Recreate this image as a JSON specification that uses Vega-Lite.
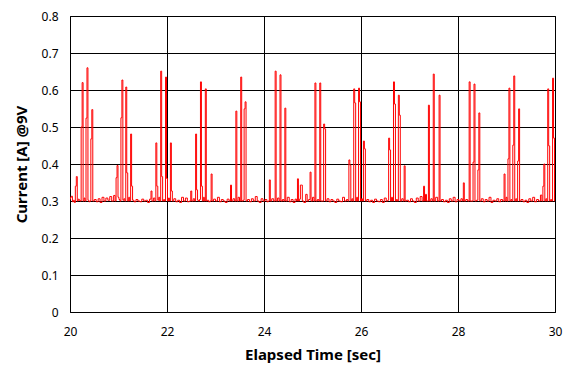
{
  "$schema": "https://vega.github.io/schema/vega-lite/v6.json",
  "width": 485,
  "height": 296,
  "autosize": {"type": "none"},
  "padding": {"left": 70, "top": 16, "right": 16, "bottom": 70},
  "background": "white",
  "config": {
    "view": {"stroke": "black", "strokeWidth": 1},
    "font": "Noto Sans"
  },
  "data": {"values": [
{"t":20.00,"v":0.305},{"t":20.02,"v":0.31},{"t":20.04,"v":0.313},{"t":20.06,"v":0.298},{"t":20.08,"v":0.302},{"t":20.10,"v":0.296},{"t":20.12,"v":0.34},{"t":20.14,"v":0.366},{"t":20.16,"v":0.30},{"t":20.18,"v":0.305},{"t":20.20,"v":0.302},{"t":20.22,"v":0.30},{"t":20.24,"v":0.50},{"t":20.26,"v":0.62},{"t":20.28,"v":0.30},{"t":20.30,"v":0.308},{"t":20.32,"v":0.30},{"t":20.34,"v":0.524},{"t":20.36,"v":0.66},{"t":20.38,"v":0.302},{"t":20.40,"v":0.298},{"t":20.42,"v":0.30},{"t":20.44,"v":0.468},{"t":20.46,"v":0.547},{"t":20.48,"v":0.30},{"t":20.52,"v":0.304},{"t":20.56,"v":0.298},{"t":20.60,"v":0.306},{"t":20.64,"v":0.296},{"t":20.68,"v":0.31},{"t":20.72,"v":0.30},{"t":20.76,"v":0.308},{"t":20.80,"v":0.302},{"t":20.84,"v":0.312},{"t":20.88,"v":0.30},{"t":20.92,"v":0.315},{"t":20.94,"v":0.30},{"t":20.96,"v":0.363},{"t":20.98,"v":0.396},{"t":21.00,"v":0.31},{"t":21.02,"v":0.304},{"t":21.04,"v":0.30},{"t":21.06,"v":0.525},{"t":21.08,"v":0.627},{"t":21.10,"v":0.302},{"t":21.12,"v":0.306},{"t":21.14,"v":0.30},{"t":21.16,"v":0.608},{"t":21.18,"v":0.376},{"t":21.20,"v":0.30},{"t":21.22,"v":0.31},{"t":21.24,"v":0.30},{"t":21.26,"v":0.481},{"t":21.28,"v":0.34},{"t":21.30,"v":0.302},{"t":21.34,"v":0.298},{"t":21.38,"v":0.304},{"t":21.42,"v":0.30},{"t":21.46,"v":0.298},{"t":21.50,"v":0.305},{"t":21.54,"v":0.30},{"t":21.58,"v":0.302},{"t":21.62,"v":0.296},{"t":21.66,"v":0.305},{"t":21.68,"v":0.327},{"t":21.70,"v":0.30},{"t":21.74,"v":0.308},{"t":21.76,"v":0.30},{"t":21.78,"v":0.457},{"t":21.80,"v":0.34},{"t":21.82,"v":0.302},{"t":21.84,"v":0.31},{"t":21.86,"v":0.30},{"t":21.88,"v":0.651},{"t":21.90,"v":0.366},{"t":21.92,"v":0.30},{"t":21.94,"v":0.304},{"t":21.96,"v":0.30},{"t":21.98,"v":0.635},{"t":22.00,"v":0.361},{"t":22.02,"v":0.30},{"t":22.04,"v":0.308},{"t":22.06,"v":0.30},{"t":22.08,"v":0.457},{"t":22.10,"v":0.327},{"t":22.12,"v":0.30},{"t":22.16,"v":0.306},{"t":22.20,"v":0.298},{"t":22.24,"v":0.302},{"t":22.28,"v":0.296},{"t":22.32,"v":0.31},{"t":22.36,"v":0.30},{"t":22.40,"v":0.308},{"t":22.44,"v":0.298},{"t":22.48,"v":0.30},{"t":22.50,"v":0.327},{"t":22.52,"v":0.30},{"t":22.56,"v":0.306},{"t":22.58,"v":0.30},{"t":22.60,"v":0.481},{"t":22.62,"v":0.33},{"t":22.64,"v":0.302},{"t":22.66,"v":0.30},{"t":22.68,"v":0.304},{"t":22.70,"v":0.622},{"t":22.72,"v":0.34},{"t":22.74,"v":0.30},{"t":22.76,"v":0.31},{"t":22.78,"v":0.30},{"t":22.80,"v":0.603},{"t":22.82,"v":0.30},{"t":22.84,"v":0.302},{"t":22.88,"v":0.298},{"t":22.90,"v":0.30},{"t":22.92,"v":0.373},{"t":22.94,"v":0.30},{"t":22.98,"v":0.305},{"t":23.02,"v":0.30},{"t":23.06,"v":0.31},{"t":23.10,"v":0.298},{"t":23.14,"v":0.304},{"t":23.18,"v":0.30},{"t":23.22,"v":0.296},{"t":23.26,"v":0.305},{"t":23.30,"v":0.30},{"t":23.32,"v":0.343},{"t":23.34,"v":0.30},{"t":23.38,"v":0.306},{"t":23.41,"v":0.30},{"t":23.43,"v":0.543},{"t":23.45,"v":0.30},{"t":23.48,"v":0.31},{"t":23.51,"v":0.30},{"t":23.53,"v":0.635},{"t":23.55,"v":0.30},{"t":23.58,"v":0.302},{"t":23.60,"v":0.549},{"t":23.62,"v":0.568},{"t":23.64,"v":0.30},{"t":23.68,"v":0.304},{"t":23.72,"v":0.298},{"t":23.76,"v":0.306},{"t":23.80,"v":0.30},{"t":23.84,"v":0.312},{"t":23.88,"v":0.30},{"t":23.92,"v":0.296},{"t":23.96,"v":0.306},{"t":24.00,"v":0.30},{"t":24.04,"v":0.304},{"t":24.08,"v":0.298},{"t":24.10,"v":0.30},{"t":24.12,"v":0.357},{"t":24.14,"v":0.30},{"t":24.18,"v":0.306},{"t":24.22,"v":0.30},{"t":24.24,"v":0.651},{"t":24.26,"v":0.30},{"t":24.30,"v":0.308},{"t":24.32,"v":0.30},{"t":24.34,"v":0.641},{"t":24.36,"v":0.30},{"t":24.40,"v":0.304},{"t":24.42,"v":0.30},{"t":24.44,"v":0.551},{"t":24.46,"v":0.30},{"t":24.50,"v":0.31},{"t":24.54,"v":0.298},{"t":24.58,"v":0.304},{"t":24.62,"v":0.296},{"t":24.66,"v":0.305},{"t":24.68,"v":0.30},{"t":24.70,"v":0.36},{"t":24.72,"v":0.30},{"t":24.74,"v":0.305},{"t":24.76,"v":0.343},{"t":24.78,"v":0.343},{"t":24.80,"v":0.30},{"t":24.84,"v":0.296},{"t":24.88,"v":0.318},{"t":24.90,"v":0.30},{"t":24.94,"v":0.304},{"t":24.96,"v":0.378},{"t":24.98,"v":0.30},{"t":25.02,"v":0.31},{"t":25.04,"v":0.30},{"t":25.06,"v":0.619},{"t":25.08,"v":0.30},{"t":25.12,"v":0.304},{"t":25.14,"v":0.30},{"t":25.16,"v":0.619},{"t":25.18,"v":0.30},{"t":25.22,"v":0.30},{"t":25.24,"v":0.508},{"t":25.26,"v":0.495},{"t":25.28,"v":0.30},{"t":25.32,"v":0.306},{"t":25.36,"v":0.298},{"t":25.40,"v":0.304},{"t":25.44,"v":0.30},{"t":25.48,"v":0.296},{"t":25.52,"v":0.305},{"t":25.56,"v":0.30},{"t":25.60,"v":0.298},{"t":25.64,"v":0.31},{"t":25.68,"v":0.30},{"t":25.72,"v":0.304},{"t":25.74,"v":0.30},{"t":25.76,"v":0.411},{"t":25.78,"v":0.397},{"t":25.80,"v":0.30},{"t":25.82,"v":0.306},{"t":25.84,"v":0.30},{"t":25.86,"v":0.603},{"t":25.88,"v":0.565},{"t":25.90,"v":0.30},{"t":25.92,"v":0.31},{"t":25.94,"v":0.30},{"t":25.96,"v":0.605},{"t":25.98,"v":0.568},{"t":26.00,"v":0.30},{"t":26.02,"v":0.306},{"t":26.04,"v":0.30},{"t":26.06,"v":0.462},{"t":26.08,"v":0.441},{"t":26.10,"v":0.30},{"t":26.14,"v":0.304},{"t":26.18,"v":0.298},{"t":26.22,"v":0.302},{"t":26.26,"v":0.296},{"t":26.30,"v":0.305},{"t":26.34,"v":0.30},{"t":26.38,"v":0.298},{"t":26.42,"v":0.304},{"t":26.46,"v":0.296},{"t":26.50,"v":0.308},{"t":26.54,"v":0.30},{"t":26.56,"v":0.302},{"t":26.58,"v":0.47},{"t":26.60,"v":0.438},{"t":26.62,"v":0.30},{"t":26.64,"v":0.31},{"t":26.66,"v":0.30},{"t":26.68,"v":0.622},{"t":26.70,"v":0.562},{"t":26.72,"v":0.30},{"t":26.74,"v":0.304},{"t":26.76,"v":0.30},{"t":26.78,"v":0.586},{"t":26.80,"v":0.532},{"t":26.82,"v":0.30},{"t":26.86,"v":0.306},{"t":26.88,"v":0.30},{"t":26.90,"v":0.395},{"t":26.92,"v":0.30},{"t":26.96,"v":0.302},{"t":27.00,"v":0.298},{"t":27.04,"v":0.306},{"t":27.08,"v":0.30},{"t":27.12,"v":0.296},{"t":27.16,"v":0.308},{"t":27.20,"v":0.30},{"t":27.24,"v":0.312},{"t":27.28,"v":0.30},{"t":27.30,"v":0.34},{"t":27.32,"v":0.30},{"t":27.34,"v":0.318},{"t":27.36,"v":0.30},{"t":27.38,"v":0.30},{"t":27.40,"v":0.559},{"t":27.42,"v":0.30},{"t":27.46,"v":0.306},{"t":27.48,"v":0.30},{"t":27.50,"v":0.643},{"t":27.52,"v":0.30},{"t":27.56,"v":0.31},{"t":27.60,"v":0.30},{"t":27.62,"v":0.586},{"t":27.64,"v":0.30},{"t":27.68,"v":0.304},{"t":27.72,"v":0.298},{"t":27.76,"v":0.302},{"t":27.80,"v":0.296},{"t":27.84,"v":0.306},{"t":27.88,"v":0.30},{"t":27.92,"v":0.31},{"t":27.96,"v":0.298},{"t":28.00,"v":0.304},{"t":28.04,"v":0.30},{"t":28.08,"v":0.306},{"t":28.10,"v":0.30},{"t":28.12,"v":0.349},{"t":28.14,"v":0.30},{"t":28.18,"v":0.304},{"t":28.22,"v":0.30},{"t":28.24,"v":0.622},{"t":28.26,"v":0.30},{"t":28.30,"v":0.30},{"t":28.32,"v":0.405},{"t":28.34,"v":0.616},{"t":28.36,"v":0.30},{"t":28.40,"v":0.302},{"t":28.42,"v":0.384},{"t":28.44,"v":0.538},{"t":28.46,"v":0.30},{"t":28.50,"v":0.306},{"t":28.54,"v":0.298},{"t":28.58,"v":0.304},{"t":28.62,"v":0.30},{"t":28.66,"v":0.31},{"t":28.70,"v":0.296},{"t":28.74,"v":0.302},{"t":28.78,"v":0.30},{"t":28.82,"v":0.306},{"t":28.86,"v":0.298},{"t":28.90,"v":0.304},{"t":28.94,"v":0.30},{"t":28.96,"v":0.373},{"t":28.98,"v":0.30},{"t":29.00,"v":0.31},{"t":29.02,"v":0.30},{"t":29.04,"v":0.414},{"t":29.06,"v":0.605},{"t":29.08,"v":0.30},{"t":29.10,"v":0.304},{"t":29.12,"v":0.30},{"t":29.14,"v":0.451},{"t":29.16,"v":0.638},{"t":29.18,"v":0.30},{"t":29.20,"v":0.306},{"t":29.22,"v":0.30},{"t":29.24,"v":0.408},{"t":29.26,"v":0.549},{"t":29.28,"v":0.30},{"t":29.32,"v":0.304},{"t":29.36,"v":0.298},{"t":29.40,"v":0.302},{"t":29.44,"v":0.296},{"t":29.48,"v":0.306},{"t":29.52,"v":0.30},{"t":29.56,"v":0.31},{"t":29.60,"v":0.298},{"t":29.64,"v":0.304},{"t":29.68,"v":0.30},{"t":29.72,"v":0.316},{"t":29.74,"v":0.30},{"t":29.76,"v":0.34},{"t":29.78,"v":0.40},{"t":29.80,"v":0.30},{"t":29.82,"v":0.306},{"t":29.84,"v":0.30},{"t":29.86,"v":0.603},{"t":29.88,"v":0.449},{"t":29.90,"v":0.30},{"t":29.92,"v":0.304},{"t":29.94,"v":0.30},{"t":29.96,"v":0.632},{"t":29.98,"v":0.47},{"t":30.00,"v":0.30}
  ]},
  "mark": {"type": "line", "color": "#FF0000", "strokeWidth": 1, "interpolate": "step"},
  "encoding": {
    "x": {
      "field": "t", "type": "quantitative",
      "scale": {"domain": [20, 30], "nice": false, "zero": false},
      "axis": {
        "title": "Elapsed Time [sec]", "values": [20, 22, 24, 26, 28, 30],
        "grid": true, "gridColor": "black", "gridOpacity": 1, "gridWidth": 1,
        "ticks": false, "domain": false, "labelPadding": 14,
        "labelFontSize": 12, "labelColor": "black", "labelFont": "Noto Sans",
        "titleFontSize": 15, "titleFontWeight": "bold", "titleColor": "black",
        "titleFont": "Noto Sans", "titlePadding": 10, "labelFlush": false
      }
    },
    "y": {
      "field": "v", "type": "quantitative",
      "scale": {"domain": [0, 0.8], "nice": false},
      "axis": {
        "title": "Current [A] @9V", "values": [0, 0.1, 0.2, 0.3, 0.4, 0.5, 0.6, 0.7, 0.8],
        "format": "~g",
        "grid": true, "gridColor": "black", "gridOpacity": 1, "gridWidth": 1,
        "ticks": false, "domain": false, "labelPadding": 12,
        "labelFontSize": 12, "labelColor": "black", "labelFont": "Noto Sans",
        "titleFontSize": 15, "titleFontWeight": "bold", "titleColor": "black",
        "titleFont": "Noto Sans", "titlePadding": 12
      }
    }
  }
}
